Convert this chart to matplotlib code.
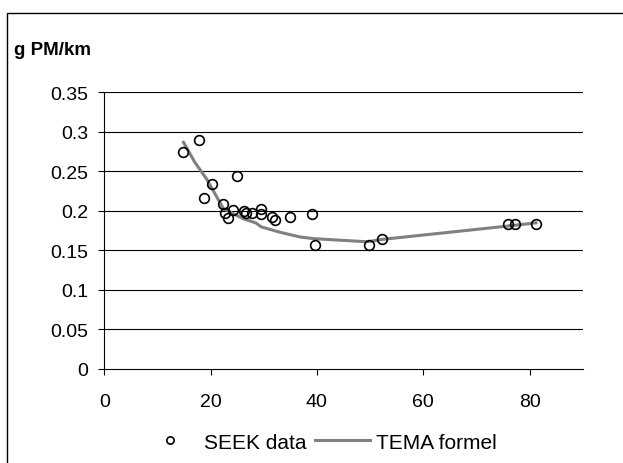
import matplotlib.pyplot as plt
from matplotlib.patches import Rectangle

plt.rcParams['font.family'] = ['Liberation Sans', 'DejaVu Sans']

# SEEK measurements (speed km/h, g PM/km)
seek_x = [14.9, 17.8, 20.2, 18.7, 25.0, 22.3, 22.8, 23.2, 24.3, 26.3, 26.7,
          27.8, 29.5, 29.5, 31.6, 32.2, 34.9, 39.0, 39.7, 49.8, 52.2, 76.0,
          77.3, 81.2]
seek_y = [0.275, 0.290, 0.234, 0.216, 0.244, 0.209, 0.198, 0.191, 0.201,
          0.200, 0.198, 0.197, 0.202, 0.196, 0.193, 0.188, 0.193, 0.196,
          0.157, 0.157, 0.165, 0.183, 0.183, 0.183]

# TEMA formula curve
tema_x = [14.9, 17.0, 19.3, 22.4, 26.2, 28.5, 29.5, 33.1, 36.9, 39.4, 49.5,
          52.2, 76.0, 81.2]
tema_y = [0.287, 0.262, 0.240, 0.203, 0.190, 0.185, 0.180, 0.173, 0.167,
          0.165, 0.161, 0.164, 0.181, 0.185]

yticks = [0, 0.05, 0.1, 0.15, 0.2, 0.25, 0.3, 0.35]
ylabels = ['0', '0.05', '0.1', '0.15', '0.2', '0.25', '0.3', '0.35']

fig = plt.figure(figsize=(6.23, 4.64), dpi=100)
ax = fig.add_axes([0.1674, 0.2026, 0.7679, 0.5959])

for v in yticks[1:]:
    ax.axhline(v, color='black', lw=0.8, zorder=1)

ax.plot(seek_x, seek_y, 'o', ms=7, mfc='none', mec='black', mew=1.2,
        label='SEEK data', zorder=3)
ax.plot(tema_x, tema_y, color='#808080', lw=2.2, label='TEMA formel', zorder=2)

ax.set_xlim(0, 90)
ax.set_ylim(0, 0.35)
ax.set_xticks([0, 20, 40, 60, 80])
ax.set_yticks(yticks)
ax.set_yticklabels(ylabels)
ax.tick_params(direction='out', length=4.3, width=0.8, labelsize=14)
ax.tick_params(axis='y', pad=7)
ax.tick_params(axis='x', pad=13)
for s in ['top', 'right']:
    ax.spines[s].set_visible(False)
for s in ['left', 'bottom']:
    ax.spines[s].set_linewidth(0.8)

fig.text(0.022, 0.8815, 'g PM/km', fontsize=13.5, fontweight='bold',
         va='baseline', ha='left')

fig.legend(loc='center', bbox_to_anchor=(0.513, 0.045), ncol=2, frameon=False,
           fontsize=15, handlelength=2.65, columnspacing=0.4,
           handletextpad=0.3, markerscale=0.75)

# outer chart frame (right and bottom edges fall outside the image)
fig.patches.append(Rectangle((0.011, -0.05), 1.05, 0.02 + 0.05 + 0.95,
                             transform=fig.transFigure, fill=False,
                             edgecolor='black', lw=1))

fig.savefig('out.png', dpi=100)
